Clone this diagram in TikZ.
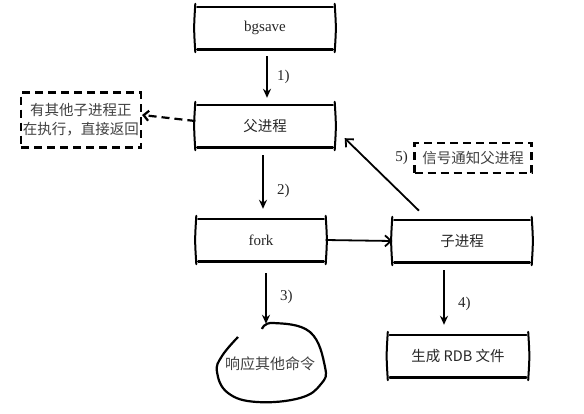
\documentclass[tikz,border=0pt]{standalone}
\usepackage{fontspec}
\setmainfont{Liberation Serif}
\newfontfamily\cjk{Noto Sans CJK SC}
\usetikzlibrary{arrows.meta,calc,shapes.geometric,positioning}
\begin{document}
\begin{tikzpicture}[x=1pt,y=-1pt,
  box/.style={draw=none,minimum height=42pt,inner sep=0pt,font=\fontsize{15}{17}\selectfont,text=black!85},
  edge/.style={line width=2.6pt,line cap=round,draw=black},
  side/.style={line width=2pt,line cap=round,draw=black},
  dbox/.style={draw=black,dash pattern=on 8pt off 5pt,line width=2.2pt,inner sep=2pt,align=center,font=\cjk\fontsize{14.5}{19}\selectfont,text=black!75},
  arr/.style={draw=black,line width=1.8pt,-{Stealth[length=9pt,width=8pt]}},
  barb/.style={draw=black,line width=1.8pt,-{Straight Barb[length=6pt,width=11pt]}},
  lbl/.style={font=\fontsize{15}{17}\selectfont,text=black!85}]
\useasboundingbox (0,0) rectangle (584,413);
\node[box,minimum width=139pt] (bg) at (265,28) {bgsave};
\node[box,minimum width=139pt] (par) at (265,126) {\cjk\fontsize{14.5}{17}\selectfont 父进程};
\node[box,minimum width=129pt] (fork) at (261,240) {fork};
\node[box,minimum width=139pt] (child) at (462,241) {\cjk\fontsize{14.5}{17}\selectfont 子进程};
\node[box,minimum width=140pt] (rdb) at (458,356) {\cjk\fontsize{14.5}{17}\selectfont 生成 RDB 文件};
\foreach \n in {bg,par,fork,child,rdb}{
  \draw[edge] ([xshift=2pt]\n.north west) -- ([xshift=-2pt]\n.north east);
  \draw[edge] ([xshift=2pt]\n.south west) -- ([xshift=-2pt]\n.south east);
  \draw[side] ([yshift=3pt]\n.north west) .. controls ([xshift=-1.5pt]\n.west) .. ([yshift=-3pt]\n.south west);
  \draw[side] ([yshift=3pt]\n.north east) .. controls ([xshift=1.5pt]\n.east) .. ([yshift=-3pt]\n.south east);
}
\node[dbox,minimum width=114pt,minimum height=55pt] (busy) at (81,120) {有其他子进程正\\在执行，直接返回};
\node[dbox,minimum width=117pt,minimum height=30pt] (sig) at (473,158) {信号通知父进程};
\node[ellipse,minimum width=108pt,minimum height=80pt,font=\cjk\fontsize{15}{17}\selectfont,text=black!75] (resp) at (270,364) {响应其他命令};
\draw[draw=black,line width=2.2pt] plot[smooth,tension=0.7] coordinates {(238,337) (222,356) (217,372) (228,393) (257,402) (300,398) (321,384) (325,367) (310,332) (273,323) (262,329)};
\coordinate (c1) at ([xshift=2pt]bg.south);
\draw[arr,shorten <=7pt,shorten >=7pt] (c1) -- (c1 |- par.north) node[lbl,midway,right=6pt] {1)};
\coordinate (c2) at ([xshift=-2pt]par.south);
\draw[arr,shorten <=8pt,shorten >=10pt] (c2) -- (c2 |- fork.north) node[lbl,midway,right=10pt,yshift=-8pt] {2)};
\draw[barb] (fork.east) -- (child.west);
\coordinate (c3) at ([xshift=5pt]fork.south);
\draw[arr,shorten <=12pt] (c3) -- (c3 |- resp.north) node[lbl,midway,right=10pt,yshift=-4pt] {3)};
\coordinate (c4) at ([xshift=-18pt]child.south);
\draw[arr,shorten <=8pt,shorten >=10pt] (c4) -- (c4 |- rdb.north) node[lbl,midway,right=10pt,yshift=-5pt] {4)};
\draw[barb,shorten <=13pt] ([xshift=36pt]child.north west) -- ($(par.south east)+(10,-9)$);
\node[lbl,left=2pt of sig] (l5) {5)};
\draw[line width=2.2pt,dash pattern=on 8pt off 5pt,-{Straight Barb[length=5pt,width=10pt]}] ([yshift=5pt]par.west) -- ([yshift=5pt]busy.east);
\end{tikzpicture}
\end{document}
